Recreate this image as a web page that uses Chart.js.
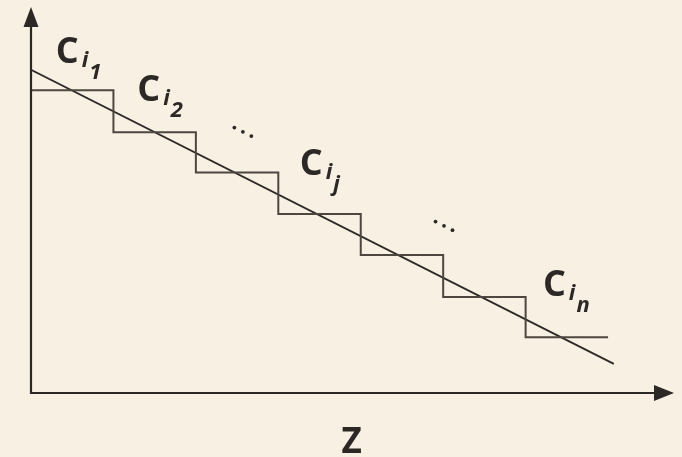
<!DOCTYPE html>
<html>
<head>
<meta charset="utf-8">
<script src="https://cdn.jsdelivr.net/npm/chart.js@4"></script>
<style>
    html, body { margin: 0; padding: 0; background: #f8f0e3; }
    canvas { display: block; }
</style>
</head>
<body>
<canvas id="chart" width="682" height="457"></canvas>
<script>
// step boundaries along z and the constant level of each step
const stepZ = [0, 1, 2, 3, 4, 5, 6, 7]
const stepLevels = [7.37, 6.35, 5.37, 4.36, 3.36, 2.34, 1.36, 1.36]

// straight line fitted through the steps
const fitZ = [0, 7.07]
const fitLevels = [7.87, 0.71]

// step labels: main letter, first and second subscript, anchor (z, level)
const labelMain = ['C', 'C', 'C', 'C']
const labelSub = ['i', 'i', 'i', 'i']
const labelSubSub = ['1', '2', 'j', 'n']
const labelZ = [0.30, 1.29, 3.26, 6.21]
const labelLevel = [8.04, 7.11, 5.31, 2.36]

// ellipses between labels
const dotsZ = [2.57, 5.01]
const dotsLevel = [6.36, 4.07]

const axisTitle = 'Z'
const axisTitleZ = 3.89

const ink = '#2b2826'
const lineColor = '#4d4740'
const fontFamily = '"Open Sans", "DejaVu Sans", sans-serif'

const stepData = stepZ.map((z, i) => ({ x: z, y: stepLevels[i] }))
const fitData = fitZ.map((z, i) => ({ x: z, y: fitLevels[i] }))

const decorations = {
    id: 'decorations',
    afterDatasetsDraw(chart) {
        const { ctx, chartArea, scales } = chart
        const { left, right, top, bottom } = chartArea
        ctx.save()

        // axes with arrow heads
        ctx.strokeStyle = ink
        ctx.fillStyle = ink
        ctx.lineWidth = 2.2
        ctx.beginPath()
        ctx.moveTo(left, top + 12)
        ctx.lineTo(left, bottom)
        ctx.lineTo(right - 12, bottom)
        ctx.stroke()
        ctx.beginPath()
        ctx.moveTo(left, top)
        ctx.lineTo(left - 7.5, top + 20)
        ctx.lineTo(left + 7.5, top + 20)
        ctx.closePath()
        ctx.fill()
        ctx.beginPath()
        ctx.moveTo(right, bottom)
        ctx.lineTo(right - 20, bottom - 8)
        ctx.lineTo(right - 20, bottom + 8)
        ctx.closePath()
        ctx.fill()

        // C_{i_k} labels
        ctx.textBaseline = 'alphabetic'
        ctx.textAlign = 'left'
        for (let i = 0; i < labelMain.length; i++) {
            let x = scales.x.getPixelForValue(labelZ[i])
            const y = scales.y.getPixelForValue(labelLevel[i])
            ctx.font = 'bold 36px ' + fontFamily
            ctx.fillText(labelMain[i], x, y)
            x += ctx.measureText(labelMain[i]).width + 3
            ctx.font = 'italic bold 22px ' + fontFamily
            ctx.fillText(labelSub[i], x, y + 4)
            x += ctx.measureText(labelSub[i]).width + 1
            ctx.fillText(labelSubSub[i], x, y + 16)
        }

        // ellipses, tilted along the fitted line
        const angle = Math.atan2(
            scales.y.getPixelForValue(fitLevels[1]) - scales.y.getPixelForValue(fitLevels[0]),
            scales.x.getPixelForValue(fitZ[1]) - scales.x.getPixelForValue(fitZ[0])
        )
        for (let i = 0; i < dotsZ.length; i++) {
            const cx = scales.x.getPixelForValue(dotsZ[i])
            const cy = scales.y.getPixelForValue(dotsLevel[i])
            for (let d = -1; d <= 1; d++) {
                ctx.beginPath()
                ctx.arc(cx + d * 9.5 * Math.cos(angle), cy + d * 9.5 * Math.sin(angle), 1.9, 0, Math.PI * 2)
                ctx.fill()
            }
        }

        // axis title
        ctx.font = 'bold 35px ' + fontFamily
        ctx.textAlign = 'center'
        ctx.fillText(axisTitle, scales.x.getPixelForValue(axisTitleZ), bottom + 60)

        ctx.restore()
    }
}

new Chart(document.getElementById('chart'), {
    type: 'scatter',
    data: {
        datasets: [
            {
                label: 'steps',
                data: stepData,
                showLine: true,
                stepped: true,
                borderColor: lineColor,
                borderWidth: 2,
                pointRadius: 0,
                fill: false
            },
            {
                label: 'fit',
                data: fitData,
                showLine: true,
                borderColor: ink,
                borderWidth: 1.8,
                pointRadius: 0,
                fill: false
            }
        ]
    },
    options: {
        responsive: false,
        animation: false,
        layout: {
            padding: { left: 31, right: 8, top: 7, bottom: 64 }
        },
        scales: {
            x: { type: 'linear', min: 0, max: 7.8, display: false },
            y: { type: 'linear', min: 0, max: 9.4, display: false }
        },
        plugins: {
            legend: { display: false },
            tooltip: { enabled: false }
        }
    },
    plugins: [decorations]
})
</script>
</body>
</html>
